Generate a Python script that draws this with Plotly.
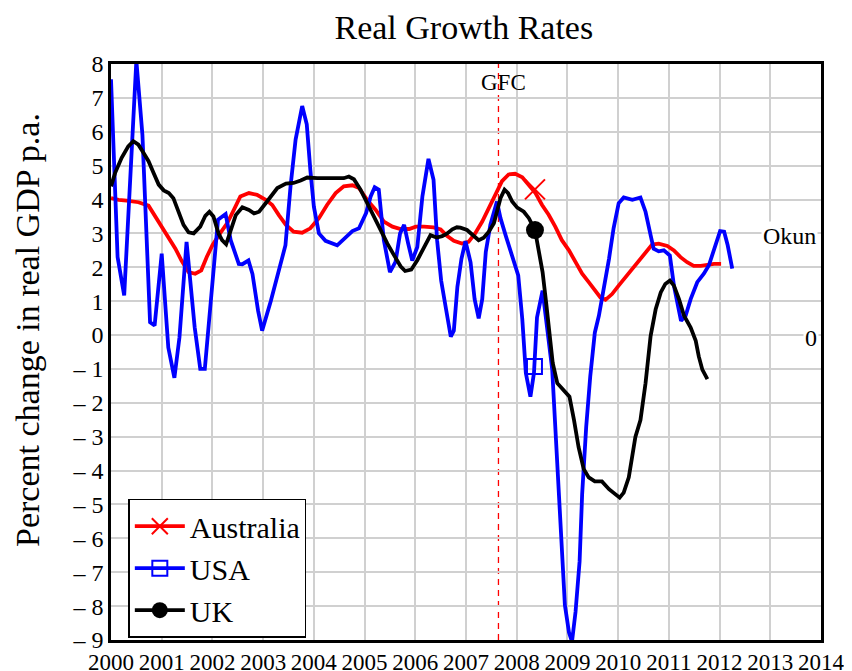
import plotly.graph_objects as go

# ---------------- data ----------------
aus_x = [2000.0, 2000.15, 2000.31, 2000.54, 2000.74, 2000.87, 2001.01, 2001.17, 2001.27, 2001.39,
         2001.53, 2001.66, 2001.78, 2001.89, 2002.0, 2002.15, 2002.29, 2002.42, 2002.55, 2002.72,
         2002.88, 2003.05, 2003.18, 2003.31, 2003.45, 2003.6, 2003.77, 2003.93, 2004.1, 2004.26,
         2004.43, 2004.59, 2004.76, 2004.89, 2005.05, 2005.22, 2005.38, 2005.55, 2005.71, 2005.88,
         2006.01, 2006.17, 2006.36, 2006.5, 2006.63, 2006.76, 2006.92, 2007.05, 2007.18, 2007.32,
         2007.45, 2007.58, 2007.71, 2007.84, 2007.97, 2008.11, 2008.24, 2008.37, 2008.5, 2008.63,
         2008.76, 2008.89, 2009.03, 2009.16, 2009.29, 2009.42, 2009.55, 2009.65, 2009.75, 2009.88,
         2010.01, 2010.14, 2010.34, 2010.51, 2010.67, 2010.8, 2010.97, 2011.1, 2011.23, 2011.36,
         2011.49, 2011.63, 2011.76, 2011.89, 2012.03]
aus_y = [4.04, 3.99, 3.97, 3.92, 3.82, 3.5, 3.15, 2.75, 2.55, 2.2,
         1.86, 1.81, 1.91, 2.31, 2.65, 3.0, 3.3, 3.69, 4.09, 4.19,
         4.14, 3.99, 3.84, 3.54, 3.25, 3.05, 3.02, 3.15, 3.45, 3.84,
         4.19, 4.39, 4.42, 4.34, 3.99, 3.69, 3.35, 3.2, 3.13, 3.13,
         3.2, 3.2, 3.18, 3.12, 2.92, 2.78, 2.7, 2.75, 3.0, 3.35,
         3.74, 4.14, 4.54, 4.74, 4.76, 4.66, 4.44, 4.19, 3.84, 3.55,
         3.2, 2.8, 2.5, 2.15, 1.81, 1.56, 1.31, 1.11, 1.04, 1.21,
         1.46, 1.7, 2.08, 2.4, 2.67, 2.7, 2.63, 2.5, 2.3, 2.15,
         2.04, 2.04, 2.08, 2.1, 2.1]

usa_x = [2000.0, 2000.13, 2000.26, 2000.38, 2000.5, 2000.62, 2000.71, 2000.77, 2000.86, 2001.0,
         2001.13, 2001.25, 2001.35, 2001.49, 2001.65, 2001.76, 2001.85, 2001.98, 2002.11, 2002.26,
         2002.36, 2002.52, 2002.59, 2002.71, 2002.79, 2002.9, 2002.98, 2003.15, 2003.3, 2003.44,
         2003.54, 2003.64, 2003.77, 2003.86, 2003.93, 2004.0, 2004.1, 2004.23, 2004.46, 2004.63,
         2004.76, 2004.89, 2005.03, 2005.12, 2005.2, 2005.28, 2005.38, 2005.5, 2005.61, 2005.7,
         2005.78, 2005.86, 2005.94, 2006.04, 2006.14, 2006.26, 2006.36, 2006.43, 2006.51, 2006.6,
         2006.7, 2006.76, 2006.83, 2006.91, 2006.99, 2007.09, 2007.17, 2007.25, 2007.32, 2007.39,
         2007.48, 2007.61, 2007.68, 2007.78, 2007.91, 2008.03, 2008.11, 2008.18, 2008.27, 2008.34,
         2008.4, 2008.51, 2008.7, 2008.76, 2008.83, 2008.89, 2008.95, 2009.03, 2009.09, 2009.16,
         2009.24, 2009.29, 2009.37, 2009.45, 2009.54, 2009.62, 2009.72, 2009.82, 2009.91, 2010.01,
         2010.11, 2010.28, 2010.44, 2010.54, 2010.64, 2010.7, 2010.8, 2010.9, 2011.02, 2011.1,
         2011.18, 2011.24, 2011.33, 2011.43, 2011.56, 2011.69, 2011.79, 2011.89, 2012.01, 2012.09,
         2012.16, 2012.25]
usa_y = [7.55, 2.3, 1.17, 4.4, 8.1, 5.9, 2.4, 0.38, 0.28, 2.4,
         -0.37, -1.26, -0.07, 2.75, 0.23, -1.0, -1.0, 1.2, 3.4, 3.57,
         2.8, 2.1, 2.09, 2.2, 1.8, 0.72, 0.13, 1.0, 1.9, 2.65,
         4.39, 5.77, 6.76, 6.22, 4.88, 3.79, 3.0, 2.78, 2.65, 2.9,
         3.07, 3.15, 3.6, 4.09, 4.36, 4.29, 2.8, 1.86, 2.16, 3.0,
         3.25, 2.7, 2.2, 2.6, 4.09, 5.2, 4.58, 2.8, 1.61, 0.82,
         -0.05, 0.13, 1.42, 2.25, 2.77, 2.15, 1.06, 0.49, 1.06, 2.45,
         3.25, 3.94, 3.45, 2.95, 2.35, 1.76, 0.47, -1.12, -1.82, -1.12,
         0.52, 1.31, -1.02, -2.71, -4.7, -6.68, -7.97, -8.77, -9.05, -8.17,
         -6.68, -4.7, -2.71, -1.22, 0.07, 0.57, 1.36, 2.25, 3.15, 3.89,
         4.06, 3.99, 4.06, 3.64, 2.95, 2.55, 2.47, 2.5, 2.35, 1.46,
         0.86, 0.42, 0.57, 1.06, 1.56, 1.81, 2.06, 2.55, 3.07, 3.05,
         2.65, 1.96]

uk_x = [2000.0, 2000.08, 2000.21, 2000.34, 2000.44, 2000.54, 2000.64, 2000.74, 2000.84, 2000.94,
        2001.04, 2001.14, 2001.23, 2001.33, 2001.43, 2001.53, 2001.63, 2001.76, 2001.86, 2001.94,
        2002.02, 2002.12, 2002.19, 2002.27, 2002.36, 2002.46, 2002.59, 2002.72, 2002.82, 2002.92,
        2003.05, 2003.18, 2003.28, 2003.45, 2003.6, 2003.74, 2003.87, 2004.07, 2004.33, 2004.59,
        2004.69, 2004.79, 2004.92, 2005.05, 2005.18, 2005.32, 2005.45, 2005.58, 2005.71, 2005.8,
        2005.92, 2006.04, 2006.17, 2006.3, 2006.42, 2006.53, 2006.63, 2006.73, 2006.82, 2006.89,
        2007.02, 2007.15, 2007.25, 2007.35, 2007.45, 2007.55, 2007.61, 2007.68, 2007.76, 2007.83,
        2007.91, 2008.01, 2008.14, 2008.24, 2008.36, 2008.43, 2008.51, 2008.58, 2008.64, 2008.71,
        2008.8, 2008.93, 2009.04, 2009.13, 2009.22, 2009.32, 2009.42, 2009.54, 2009.68, 2009.82,
        2009.93, 2010.03, 2010.11, 2010.21, 2010.34, 2010.44, 2010.54, 2010.64, 2010.74, 2010.84,
        2010.93, 2011.02, 2011.1, 2011.2, 2011.3, 2011.43, 2011.53, 2011.59, 2011.66, 2011.76]
uk_y = [4.39, 4.78, 5.23, 5.57, 5.72, 5.62, 5.38, 5.13, 4.78, 4.44,
        4.27, 4.19, 4.04, 3.64, 3.25, 3.03, 3.0, 3.2, 3.52, 3.64,
        3.5, 3.0, 2.8, 2.68, 3.1, 3.54, 3.77, 3.69, 3.59, 3.64,
        3.89, 4.14, 4.34, 4.47, 4.49, 4.56, 4.65, 4.63, 4.63, 4.63,
        4.68, 4.6, 4.29, 3.89, 3.5, 3.1, 2.7, 2.36, 2.03, 1.89,
        1.93, 2.21, 2.6, 2.95, 2.88, 2.92, 3.0, 3.12, 3.18, 3.17,
        3.1, 2.95, 2.8, 2.87, 3.05, 3.3, 3.64, 4.04, 4.29, 4.19,
        3.94, 3.76, 3.64, 3.45, 3.1, 2.55, 1.86, 0.96, 0.07, -0.82,
        -1.42, -1.62, -1.82, -2.51, -3.31, -3.95, -4.2, -4.32, -4.32, -4.55,
        -4.7, -4.8, -4.65, -4.2, -3.01, -2.51, -1.42, -0.03, 0.76, 1.26,
        1.51, 1.61, 1.46, 1.06, 0.57, 0.22, -0.17, -0.63, -1.02, -1.3]

# highlighted marker points
aus_mark_x, aus_mark_y = [2008.36], [4.3]
usa_mark_x, usa_mark_y = [2008.35], [-0.93]
uk_mark_x, uk_mark_y = [2008.36], [3.1]

year_ticks = list(range(2000, 2015))
year_labels = [str(y) for y in year_ticks]
val_ticks = list(range(-9, 9))
val_labels = [("\u2013 " + str(-v)) if v < 0 else str(v) for v in val_ticks]

gfc_year = 2007.64
okun_level = 3
zero_level = 0

FONT = "Liberation Serif, Times New Roman, serif"

fig = go.Figure()

series = [
    ("Australia", aus_x, aus_y, aus_mark_x, aus_mark_y, "#ff0000",
     dict(symbol="x-thin-open", size=20, line=dict(color="#ff0000", width=2))),
    ("USA", usa_x, usa_y, usa_mark_x, usa_mark_y, "#0000ff",
     dict(symbol="square-open", size=15, line=dict(color="#0000ff", width=2))),
    ("UK", uk_x, uk_y, uk_mark_x, uk_mark_y, "#000000",
     dict(symbol="circle", size=18, color="#000000")),
]

for name, xs, ys, mx, my, col, mk in series:
    fig.add_trace(go.Scatter(x=xs, y=ys, mode="lines", line=dict(color=col, width=3.8),
                             showlegend=False, hoverinfo="skip"))
for name, xs, ys, mx, my, col, mk in series:
    fig.add_trace(go.Scatter(x=mx, y=my, mode="lines+markers", name=name,
                             line=dict(color=col, width=3.8), marker=mk))

# reference lines
fig.add_shape(type="line", xref="x", yref="paper", x0=gfc_year, x1=gfc_year, y0=0, y1=1,
              line=dict(color="#ff0000", width=1.3, dash="6px,5px"), layer="below")
for lvl in (okun_level, zero_level):
    fig.add_shape(type="line", xref="paper", yref="y", x0=0, x1=1, y0=lvl, y1=lvl,
                  line=dict(color="#ff2020", width=1.3, dash="8px,6px"), layer="below")

fig.add_annotation(x=gfc_year, y=7.45, xref="x", yref="y", text="GFC", showarrow=False,
                   xanchor="center", yanchor="middle", xshift=5,
                   font=dict(family=FONT, size=23, color="black"))
fig.add_annotation(x=1, y=okun_level, xref="paper", yref="y", text="Okun", showarrow=False,
                   xanchor="right", yanchor="middle", xshift=-3, yshift=-3,
                   font=dict(family=FONT, size=24, color="black"), bgcolor="white")
fig.add_annotation(x=1, y=zero_level, xref="paper", yref="y", text="0", showarrow=False,
                   xanchor="right", yanchor="middle", xshift=-2, yshift=-3,
                   font=dict(family=FONT, size=24, color="black"), bgcolor="white")

# y-axis title as a rotated annotation placed in the left margin
fig.add_annotation(x=0, y=0.5, xref="paper", yref="paper", text="Percent change in real GDP p.a.",
                   showarrow=False, textangle=-90, xanchor="center", yanchor="middle",
                   xshift=-84, yshift=22, font=dict(family=FONT, size=34, color="black"))

# the page body adds an 8px offset, so margins are reduced accordingly
fig.update_layout(
    width=852, height=671,
    margin=dict(l=103, r=39, t=56, b=39),
    paper_bgcolor="white", plot_bgcolor="white",
    font=dict(family=FONT, size=23, color="black"),
    title=dict(text="Real Growth Rates", x=0.535, xanchor="center", y=0.972, yanchor="middle",
               yref="container", font=dict(family=FONT, size=34, color="black")),
    xaxis=dict(range=[2000, 2014], tickvals=year_ticks, ticktext=year_labels, tickangle=0,
               showgrid=True, gridcolor="#d0d0d0", gridwidth=1.5,
               showline=True, linecolor="black", linewidth=2.5, mirror=True,
               ticks="", zeroline=False, tickfont=dict(family=FONT, size=23), automargin=False),
    yaxis=dict(range=[-9, 8], tickvals=val_ticks, ticktext=val_labels,
               showgrid=True, gridcolor="#d0d0d0", gridwidth=1.5,
               showline=True, linecolor="black", linewidth=2.5, mirror=True,
               ticks="", zeroline=False, tickfont=dict(family=FONT, size=24), automargin=False),
    legend=dict(x=0.0244, y=0.2453, xanchor="left", yanchor="top",
                bgcolor="white", bordercolor="black", borderwidth=1.5,
                font=dict(family=FONT, size=30), itemwidth=50,
                tracegroupgap=0),
    showlegend=True,
)

fig.write_html("out.html")
